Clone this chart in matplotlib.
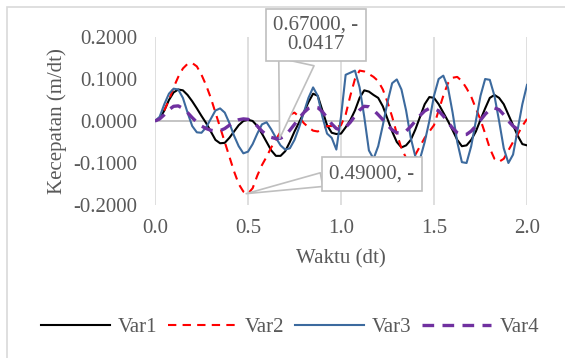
import numpy as np
from matplotlib import pyplot as plt
from matplotlib.patches import Rectangle

# waktu (dt), langkah 0.025
waktu = np.round(np.arange(0, 2.0001, 0.025), 3)

var1 = [0.0, 0.005, 0.025, 0.05, 0.068, 0.075, 0.073, 0.062, 0.047, 0.03,
        0.012, -0.005, -0.025, -0.045, -0.053, -0.052, -0.04, -0.025, -0.01, 0.0,
        0.003, 0.0, -0.012, -0.03, -0.05, -0.07, -0.083, -0.083, -0.072, -0.05,
        -0.025, -0.003, 0.02, 0.045, 0.065, 0.06, 0.025, -0.01, -0.028, -0.031,
        -0.03, -0.015, 0.002, 0.025, 0.055, 0.073, 0.07, 0.062, 0.055, 0.035,
        0.005, -0.025, -0.05, -0.063, -0.058, -0.045, -0.02, 0.01, 0.04, 0.057,
        0.055, 0.04, 0.02, 0.0, -0.022, -0.045, -0.06, -0.058, -0.045, -0.025,
        0.003, 0.03, 0.055, 0.062, 0.055, 0.04, 0.015, -0.01, -0.035, -0.055,
        -0.058]

var2 = [0.0, 0.005, 0.025, 0.05, 0.08, 0.105, 0.125, 0.136, 0.138, 0.13,
        0.11, 0.085, 0.055, 0.02, -0.015, -0.05, -0.085, -0.12, -0.15, -0.168,
        -0.173, -0.16, -0.13, -0.105, -0.085, -0.063, -0.045, -0.025, -0.008, 0.015,
        0.02, 0.01, -0.005, -0.015, -0.023, -0.025, -0.018, -0.012, -0.012, -0.015,
        -0.01, 0.015, 0.06, 0.1, 0.12, 0.118, 0.112, 0.105, 0.095, 0.075,
        0.045, 0.01, -0.03, -0.065, -0.088, -0.09, -0.08, -0.06, -0.04, -0.025,
        -0.01, 0.025, 0.06, 0.09, 0.103, 0.105, 0.095, 0.078, 0.058, 0.03,
        0.003, -0.03, -0.065, -0.09, -0.097, -0.09, -0.07, -0.05, -0.032, -0.012,
        0.005]

var3 = [0.0, 0.01, 0.04, 0.065, 0.077, 0.075, 0.055, 0.02, -0.012, -0.027,
        -0.028, -0.015, 0.005, 0.025, 0.03, 0.02, -0.005, -0.035, -0.06, -0.077,
        -0.073, -0.055, -0.03, -0.008, -0.003, -0.02, -0.04, -0.058, -0.068, -0.065,
        -0.045, -0.015, 0.02, 0.055, 0.08, 0.06, 0.01, -0.03, -0.04, -0.068,
        0.01, 0.11, 0.115, 0.12, 0.08, 0.01, -0.07, -0.09, -0.06, -0.01,
        0.045, 0.09, 0.099, 0.075, 0.025, -0.04, -0.085, -0.09, -0.05, 0.0,
        0.06, 0.1, 0.108, 0.08, 0.02, -0.05, -0.098, -0.1, -0.06, 0.0,
        0.06, 0.1, 0.098, 0.06, 0.0, -0.065, -0.1, -0.08, -0.02, 0.04,
        0.086]

var4 = [0.0, 0.005, 0.015, 0.027, 0.035, 0.036, 0.03, 0.02, 0.008, -0.003,
        -0.012, -0.018, -0.022, -0.024, -0.023, -0.018, -0.01, -0.002, 0.003, 0.005,
        0.004, -0.002, -0.012, -0.024, -0.033, -0.039, -0.042, -0.041, -0.035, -0.022,
        -0.008, 0.007, 0.02, 0.03, 0.034, 0.032, 0.022, 0.008, -0.007, -0.018,
        -0.021, -0.015, -0.003, 0.012, 0.026, 0.035, 0.034, 0.026, 0.015, 0.003,
        -0.01, -0.021, -0.028, -0.029, -0.024, -0.013, 0.0, 0.013, 0.024, 0.03,
        0.03, 0.024, 0.012, -0.003, -0.017, -0.028, -0.033, -0.032, -0.024, -0.012,
        0.002, 0.016, 0.027, 0.031, 0.027, 0.015, 0.0, -0.012, -0.02, -0.024,
        np.nan]

# label data
lbl1 = (0.67, -0.0417)
lbl2 = (0.49, -0.173)

abu = "#595959"
plt.rcParams['font.family'] = ['Liberation Serif', 'DejaVu Serif']

fig = plt.figure(figsize=(5.65, 3.58), dpi=100)
fig.patches.append(Rectangle((7 / 565, -0.1), 1.2, 1.1 - 7 / 358,
                             transform=fig.transFigure, fill=False,
                             edgecolor="#D9D9D9", linewidth=1.2))

ax = fig.add_axes([155 / 565, (358 - 205) / 358, 372 / 565, 168 / 358])
ax.plot(waktu, var1, color="black", lw=1.5, label="Var1", solid_joinstyle="round")
ax.plot(waktu, var2, color="red", lw=1.5, dashes=(4, 3), label="Var2")
ax.plot(waktu, var3, color="#3C6A9E", lw=1.5, label="Var3", solid_joinstyle="round")
ax.plot(waktu, var4, color="#7030A0", lw=2.4, dashes=(3.5, 2.5), label="Var4")

ax.set_xlim(0, 2.0)
ax.set_ylim(-0.2, 0.2)
ax.set_xticks([0.0, 0.5, 1.0, 1.5, 2.0])
ax.set_xticklabels(["0.0", "0.5", "1.0", "1.5", "2.0"])
ax.set_yticks([-0.2, -0.1, 0.0, 0.1, 0.2])
ax.set_yticklabels(["-0.2000", "-0.1000", "0.0000", "0.1000", "0.2000"])
ax.tick_params(length=0, labelsize=15, labelcolor=abu)
ax.tick_params(axis="y", pad=13)
ax.tick_params(axis="x", pad=10)
for s in ax.spines.values():
    s.set_visible(False)
ax.grid(axis="x", color="#D9D9D9", lw=1.2)
ax.axhline(0, color="#BFBFBF", lw=1.3, zorder=1)
ax.set_axisbelow(True)

ax.set_xlabel("Waktu (dt)", fontsize=15, color=abu, labelpad=8)
ax.set_ylabel("Kecepatan (m/dt)", fontsize=15, color=abu, labelpad=4)

kotak = dict(boxstyle="square,pad=0.35", fc="white", ec="#BFBFBF", lw=1.2)
ax.annotate("0.67000, -\n0.0417", xy=lbl1, xycoords="data",
            xytext=(316, 323), textcoords="figure pixels",
            ha="center", va="center", fontsize=15, color=abu, linespacing=1.0,
            bbox=kotak,
            arrowprops=dict(arrowstyle="wedge,tail_width=1.3", fc="white",
                            ec="#BFBFBF", lw=1.2, relpos=(0.29, 0.0),
                            shrinkA=0, shrinkB=0, mutation_scale=20))
ax.annotate("0.49000, -", xy=lbl2, xycoords="data",
            xytext=(372, 184), textcoords="figure pixels",
            ha="center", va="center", fontsize=15, color=abu,
            bbox=kotak,
            arrowprops=dict(arrowstyle="wedge,tail_width=0.5", fc="white",
                            ec="#BFBFBF", lw=1.2, relpos=(0.0, 0.28),
                            shrinkA=0, shrinkB=0, mutation_scale=20))

leg = fig.legend(loc="center", bbox_to_anchor=(290 / 565, 1 - 327 / 358), ncol=4,
                 frameon=False, fontsize=15, handlelength=3.3, columnspacing=0.5,
                 handletextpad=0.4, labelcolor=abu)

fig.savefig("out.png", dpi=100)
